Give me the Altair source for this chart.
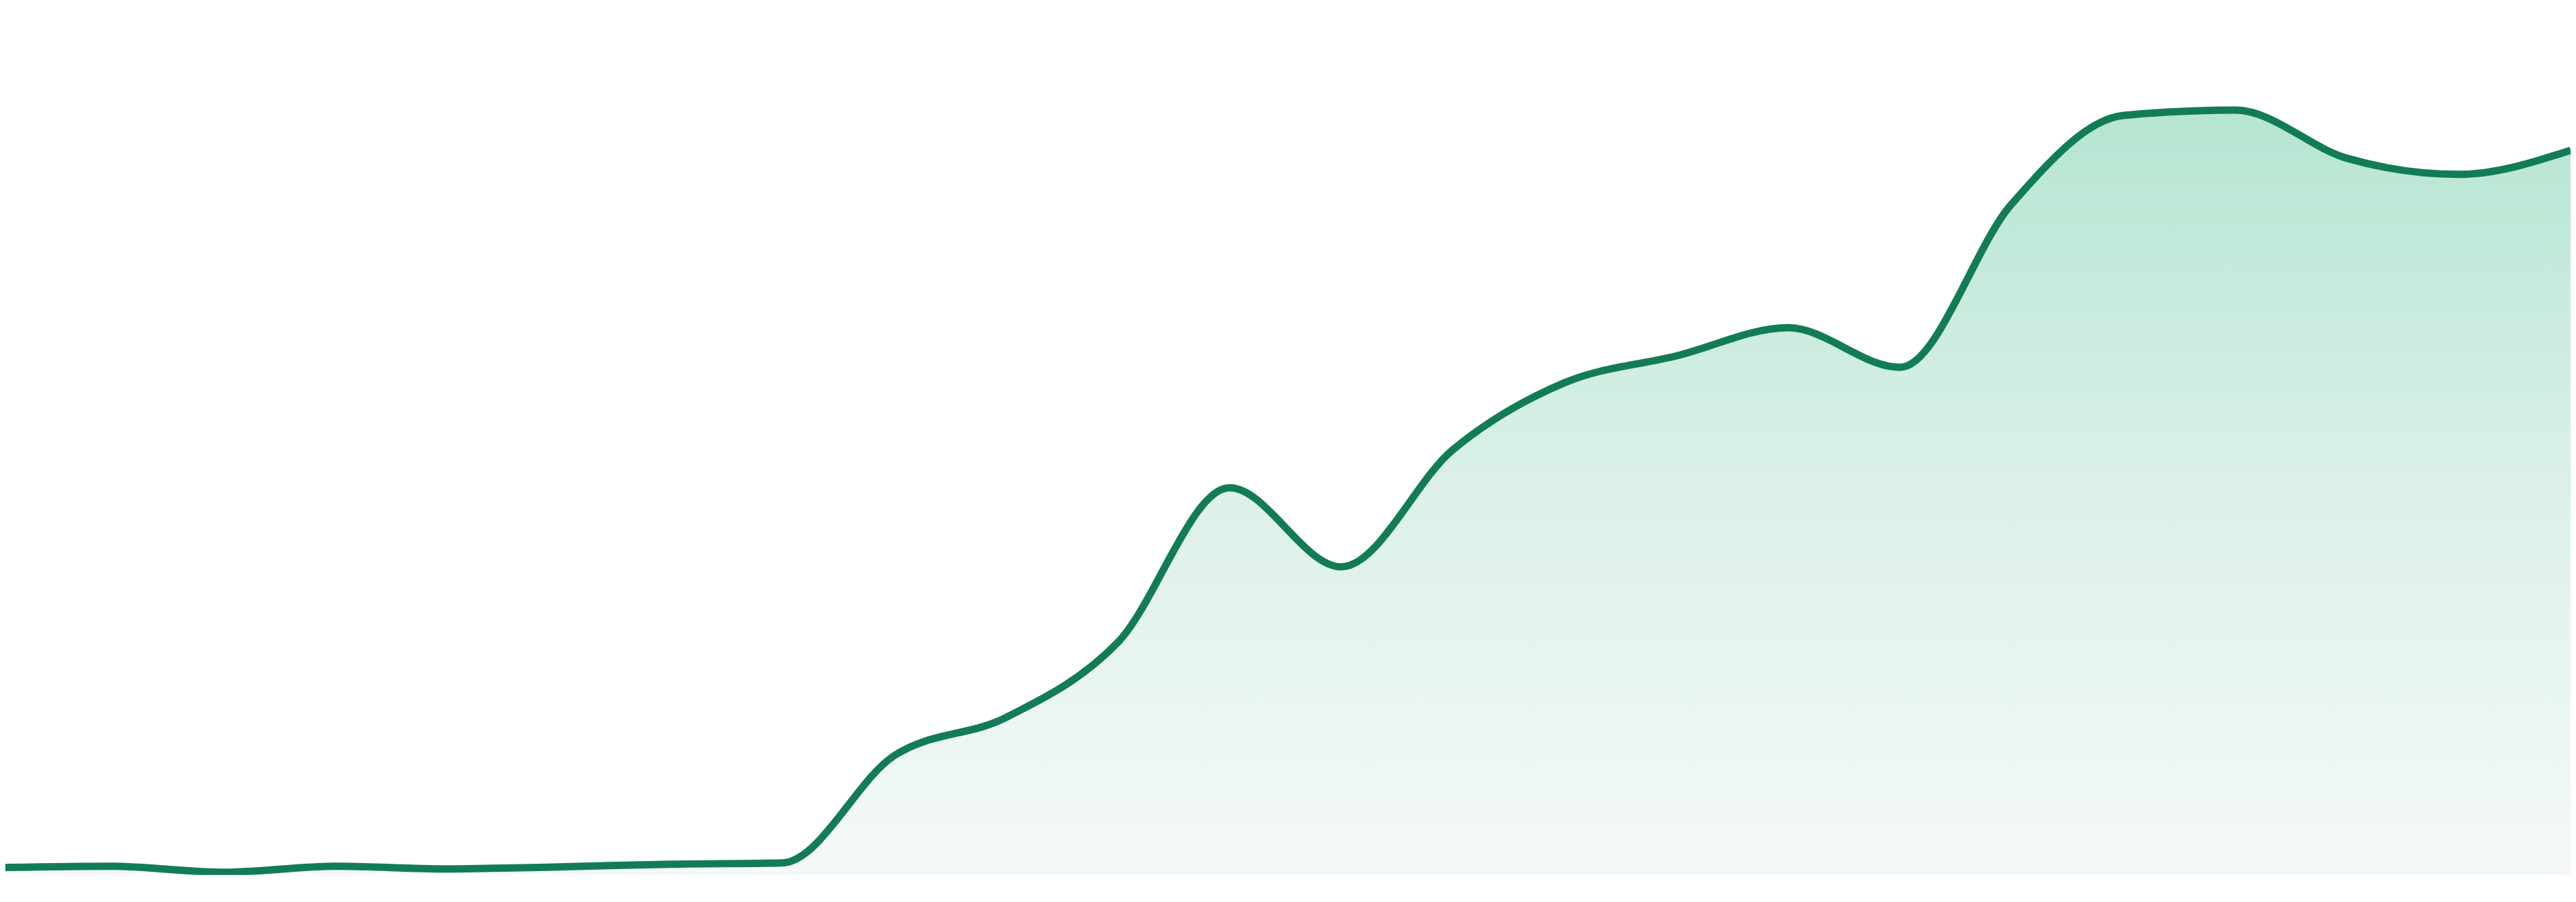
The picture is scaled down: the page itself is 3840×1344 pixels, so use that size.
import altair as alt
import pandas as pd

# x positions (sample index) and values
idx = list(range(24))
values = [11, 13, 4, 13, 9, 12, 16, 18, 178, 235, 347, 578,
          460, 635, 735, 775, 817, 758, 1002, 1134, 1142, 1070, 1046, 1082]

df = pd.DataFrame({"i": idx, "v": values})

x_scale = alt.Scale(domain=[0.0479, 23.0], nice=False, zero=False)
y_scale = alt.Scale(domain=[0, 1297], nice=False, zero=True)

grad = alt.Gradient(
    gradient="linear",
    stops=[alt.GradientStop(color="#b5e5d2", offset=0),
           alt.GradientStop(color="#dcf1e8", offset=0.5),
           alt.GradientStop(color="#f5f9f8", offset=1)],
    x1=1, x2=1, y1=0, y2=1,
)

base = alt.Chart(df)

area = base.mark_area(interpolate="monotone", clip=True, color=grad).encode(
    x=alt.X("i:Q", scale=x_scale, axis=None),
    y=alt.Y("v:Q", scale=y_scale, axis=None),
)

line = base.mark_line(interpolate="monotone", clip=True, color="#127d54",
                      strokeWidth=11, strokeJoin="round").encode(
    x=alt.X("i:Q", scale=x_scale, axis=None),
    y=alt.Y("v:Q", scale=y_scale, axis=None),
)

chart = (area + line).properties(width=3832, height=1297, padding=0,
                                  background="white").configure_view(stroke=None)

chart.save("out.html", embed_options={"renderer": "svg", "actions": False})
